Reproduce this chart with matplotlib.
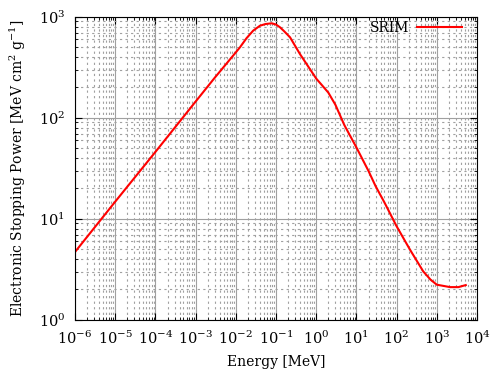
import matplotlib
matplotlib.use("Agg")
import matplotlib.pyplot as plt
import matplotlib.ticker as ticker
import numpy as np

energy = [1e-6, 1e-5, 1e-4, 1e-3, 3e-3, 1e-2, 0.0127, 0.0186, 0.027, 0.04,
          0.055, 0.078, 0.1, 0.126, 0.16, 0.224, 0.395, 1.0, 1.4, 2.0,
          3.0, 5.0, 10, 20, 30, 50, 100, 215, 460, 700,
          1000, 2140, 3430, 5250]
stopping = [4.7, 14.8, 46, 145, 250, 445, 500, 617, 730, 818,
            850, 864, 840, 788, 720, 627, 428, 245, 210, 178,
            135, 85, 51, 29.8, 21.1, 14.5, 8.45, 4.96, 3.02, 2.5,
            2.23, 2.11, 2.11, 2.21]
x_ticks = [10.0**k for k in range(-6, 5)]
y_ticks = [1, 10, 100, 1000]

plt.rcParams['font.family'] = 'DejaVu Serif'
plt.rcParams['mathtext.fontset'] = 'dejavuserif'

fig = plt.figure(figsize=(5, 3.75), dpi=100)
ax = fig.add_axes([0.15, 0.147, 0.804, 0.808])

ax.plot(energy, stopping, color='red', linewidth=1.5, label='SRIM')
ax.set_xscale('log')
ax.set_yscale('log')
ax.set_xlim(1e-6, 1e4)
ax.set_ylim(1, 1e3)

ax.xaxis.set_major_locator(ticker.FixedLocator(x_ticks))
ax.yaxis.set_major_locator(ticker.FixedLocator(y_ticks))
ax.xaxis.set_minor_locator(ticker.LogLocator(base=10, subs=np.arange(2, 10), numticks=20))
ax.yaxis.set_minor_locator(ticker.LogLocator(base=10, subs=np.arange(2, 10), numticks=20))
ax.xaxis.set_minor_formatter(ticker.NullFormatter())
ax.yaxis.set_minor_formatter(ticker.NullFormatter())
ax.set_xticklabels([r'$10^{%d}$' % k for k in range(-6, 5)])
ax.set_yticklabels([r'$10^{%d}$' % k for k in range(0, 4)])

ax.tick_params(which='both', direction='in', top=True, right=True, labelsize=10.5)
ax.tick_params(which='major', length=5, pad=7)
ax.tick_params(which='minor', length=2.5)

ax.grid(which='major', color='#a0a0a0', linestyle='-', linewidth=0.8)
ax.grid(which='minor', color='#a0a0a0', linestyle=(0, (2, 3)), linewidth=0.8)
ax.set_axisbelow(True)

ax.set_xlabel('Energy [MeV]', fontsize=10, labelpad=6)
ax.set_ylabel(r'Electronic Stopping Power [MeV cm$^2$ g$^{-1}$]', fontsize=10, labelpad=8)

ax.legend(loc='upper right', bbox_to_anchor=(0.993, 1.028), frameon=False, fontsize=10,
          markerfirst=False, handlelength=3.2, handletextpad=0.6)

fig.savefig('out.png', dpi=100)
